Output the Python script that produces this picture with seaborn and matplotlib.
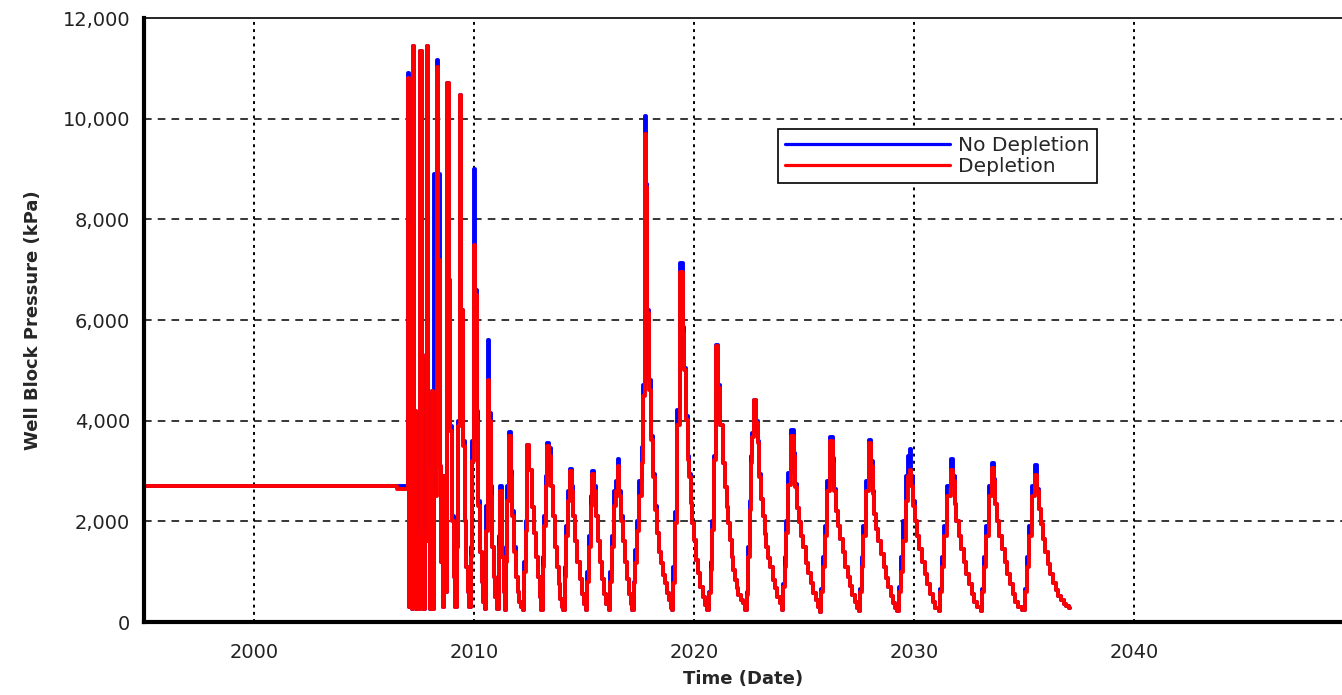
import matplotlib
matplotlib.use("Agg")
import pandas as pd
import seaborn as sns
import matplotlib.pyplot as plt
from matplotlib.lines import Line2D

# tiempo (años decimales) y presión de bloque del pozo (kPa)
years = [
    1995.00, 2006.50,
    # picos iniciales 2007-2009
    2006.98, 2007.06, 2007.11, 2007.16, 2007.21, 2007.29, 2007.35, 2007.42, 2007.48, 2007.55,
    2007.63, 2007.70, 2007.77, 2007.85, 2007.93, 2008.00, 2008.07, 2008.14, 2008.20, 2008.30,
    2008.38, 2008.45, 2008.52, 2008.58, 2008.65, 2008.71, 2008.78, 2008.86, 2008.93, 2009.00,
    2009.07, 2009.14, 2009.21, 2009.28, 2009.35, 2009.43, 2009.50, 2009.57, 2009.64, 2009.71,
    2009.78, 2009.85, 2009.92,
    # 2010
    2009.99, 2010.06, 2010.13, 2010.20, 2010.27, 2010.34, 2010.41, 2010.48,
    2010.55, 2010.62, 2010.69, 2010.76, 2010.83, 2010.90, 2010.97, 2011.04,
    2011.12, 2011.20, 2011.28, 2011.36, 2011.41,
    # 2011.6
    2011.46, 2011.52, 2011.58, 2011.66, 2011.74, 2011.82, 2011.90, 2011.98, 2012.06, 2012.14, 2012.22,
    # 2012.4
    2012.28, 2012.34, 2012.39, 2012.43, 2012.52, 2012.62, 2012.72, 2012.82, 2012.92, 2013.00, 2013.06,
    # 2013.35
    2013.12, 2013.19, 2013.27, 2013.33, 2013.42, 2013.50, 2013.58, 2013.66, 2013.75, 2013.84,
    2013.92, 2014.00, 2014.05,
    # 2014.4
    2014.12, 2014.20, 2014.28, 2014.36, 2014.44, 2014.52, 2014.60, 2014.70, 2014.80, 2014.90,
    2015.00, 2015.08,
    # 2015.4
    2015.14, 2015.22, 2015.30, 2015.38, 2015.46, 2015.54, 2015.62, 2015.72, 2015.82, 2015.92,
    2016.02, 2016.12,
    # 2016.5
    2016.20, 2016.28, 2016.38, 2016.47, 2016.53, 2016.61, 2016.69, 2016.77, 2016.86, 2016.95,
    2017.04, 2017.12, 2017.20,
    # 2017.8
    2017.26, 2017.32, 2017.40, 2017.50, 2017.62, 2017.70, 2017.76, 2017.82, 2017.88, 2017.95,
    2018.05, 2018.14, 2018.23, 2018.32, 2018.41, 2018.50, 2018.59, 2018.68, 2018.77, 2018.86,
    2018.95, 2018.99,
    # 2019.4
    2019.06, 2019.13, 2019.22, 2019.36, 2019.48, 2019.56, 2019.64, 2019.71, 2019.79, 2019.85,
    2019.91, 2020.00, 2020.09, 2020.17, 2020.27, 2020.40, 2020.50, 2020.60,
    # 2021
    2020.70, 2020.76, 2020.83, 2020.92, 2021.00, 2021.10, 2021.20, 2021.30, 2021.41, 2021.48,
    2021.56, 2021.64, 2021.71, 2021.79, 2021.86, 2021.94, 2022.01, 2022.12, 2022.24, 2022.32,
    # 2022.7
    2022.39, 2022.47, 2022.53, 2022.58, 2022.64, 2022.72, 2022.82, 2022.89, 2022.97, 2023.05,
    2023.13, 2023.21, 2023.29, 2023.37, 2023.45, 2023.58, 2023.68, 2023.79, 2023.91, 2023.99,
    # 2024.4
    2024.05, 2024.12, 2024.19, 2024.29, 2024.42, 2024.54, 2024.60, 2024.68, 2024.75, 2024.85,
    2024.97, 2025.08, 2025.20, 2025.30, 2025.42, 2025.53, 2025.64, 2025.72,
    # 2026.2
    2025.78, 2025.86, 2025.94, 2026.05, 2026.20, 2026.30, 2026.38, 2026.46, 2026.54, 2026.64,
    2026.76, 2026.88, 2026.98, 2027.08, 2027.20, 2027.30, 2027.40, 2027.48,
    # 2028
    2027.54, 2027.62, 2027.70, 2027.80, 2027.94, 2028.04, 2028.12, 2028.20, 2028.28, 2028.38,
    2028.50, 2028.62, 2028.72, 2028.82, 2028.94, 2029.04, 2029.14, 2029.24,
    # 2029.8
    2029.32, 2029.40, 2029.50, 2029.62, 2029.74, 2029.80, 2029.88, 2029.96, 2030.04, 2030.14,
    2030.24, 2030.36, 2030.48, 2030.60, 2030.72, 2030.84, 2030.96, 2031.12,
    # 2031.7
    2031.20, 2031.28, 2031.38, 2031.50, 2031.66, 2031.76, 2031.84, 2031.92, 2032.02, 2032.14,
    2032.26, 2032.38, 2032.50, 2032.62, 2032.74, 2032.86, 2033.02,
    # 2033.5
    2033.10, 2033.18, 2033.28, 2033.40, 2033.53, 2033.62, 2033.70, 2033.78, 2033.88, 2034.00,
    2034.12, 2034.24, 2034.36, 2034.48, 2034.60, 2034.72, 2034.90,
    # 2035.6
    2035.05, 2035.13, 2035.23, 2035.35, 2035.50, 2035.60, 2035.68, 2035.76, 2035.86, 2035.96,
    2036.08, 2036.20, 2036.32, 2036.44, 2036.56, 2036.68, 2036.80, 2036.92, 2037.05, 2037.10,
]

depletion = [
    2700, 2650,
    10800, 300, 7900, 250, 11450, 4200, 250, 1700, 250, 11350,
    5300, 250, 1600, 11450, 3000, 250, 4600, 250, 2500, 11030,
    7200, 3100, 1200, 300, 2900, 600, 10700, 6800, 3800, 2000,
    900, 300, 1500, 3900, 10480, 6200, 3500, 2000, 1100, 600,
    300, 1300, 3200,
    7500, 6500, 4000, 2300, 1400, 800, 400, 250,
    1800, 4800, 4000, 2500, 1500, 900, 500, 250,
    1500, 2600, 1300, 600, 240,
    1200, 2400, 3700, 2900, 2100, 1400, 900, 600, 400, 300, 240,
    1000, 1800, 2700, 3520, 3020, 2290, 1760, 1300, 900, 500, 240,
    1100, 1900, 2700, 3500, 3300, 2700, 2100, 1500, 1100, 750,
    450, 300, 240,
    900, 1700, 2400, 3000, 2600, 2100, 1600, 1200, 850, 550,
    350, 240,
    800, 1500, 2300, 2950, 2600, 2100, 1600, 1200, 850, 550,
    350, 240,
    800, 1500, 2300, 2600, 3100, 2500, 2000, 1600, 1200, 850,
    550, 350, 240,
    770, 1170, 1800, 2500, 3160, 4500, 9700, 8650, 6140, 4610,
    3620, 2890, 2230, 1770, 1400, 1170, 930, 770, 570, 440,
    270, 240,
    770, 1960, 3920, 6960, 5740, 5010, 4020, 3220, 2890, 2360,
    1960, 1630, 1230, 970, 700, 500, 340, 240,
    570, 1030, 1830, 3220, 5490, 4650, 3920, 3160, 2690, 2290,
    1960, 1630, 1300, 1030, 830, 670, 540, 440, 370, 240,
    540, 1300, 2230, 3160, 3680, 4410, 3950, 3550, 2890, 2450,
    2100, 1750, 1500, 1280, 1100, 835, 670, 500, 370, 240,
    700, 1100, 1770, 2720, 3700, 3290, 2690, 2260, 1990, 1700,
    1500, 1170, 970, 770, 570, 440, 300, 200,
    600, 1100, 1700, 2600, 3600, 3150, 2600, 2200, 1900, 1650,
    1400, 1100, 900, 720, 540, 400, 280, 220,
    600, 1100, 1700, 2600, 3550, 3100, 2550, 2150, 1850, 1600,
    1350, 1100, 880, 700, 520, 380, 270, 220,
    600, 1000, 1600, 2400, 2900, 3020, 2700, 2300, 2000, 1700,
    1450, 1200, 950, 750, 560, 400, 280, 220,
    600, 1100, 1700, 2500, 3020, 2800, 2350, 2000, 1700, 1450,
    1200, 950, 750, 560, 400, 290, 220,
    600, 1100, 1700, 2500, 3060, 2800, 2350, 2000, 1700, 1450,
    1200, 950, 750, 560, 400, 290, 230,
    600, 1100, 1700, 2500, 2920, 2600, 2250, 1950, 1650, 1400,
    1150, 950, 780, 640, 520, 430, 360, 310, 285, 280,
]

no_depletion = [
    2700, 2700,
    10900, 300, 7900, 250, 11450, 4200, 250, 1700, 250, 11350,
    5300, 250, 1600, 11450, 3000, 250, 4600, 250, 8900, 11170,
    8900, 3100, 1200, 300, 2900, 600, 10700, 6800, 3900, 2100,
    900, 300, 1500, 4000, 10480, 6200, 3600, 2000, 1100, 600,
    300, 1500, 3600,
    9000, 6600, 4200, 2400, 1400, 800, 400, 250,
    2300, 5600, 4150, 2700, 1500, 900, 500, 250,
    1700, 2700, 1300, 600, 240,
    1500, 2700, 3780, 3000, 2200, 1500, 900, 600, 400, 300, 240,
    1200, 2000, 2800, 3520, 3020, 2290, 1760, 1300, 900, 500, 240,
    1300, 2100, 2900, 3565, 3450, 2700, 2100, 1500, 1100, 750,
    450, 300, 240,
    1100, 1900, 2600, 3040, 2700, 2100, 1600, 1200, 850, 550,
    350, 240,
    1000, 1700, 2500, 3010, 2700, 2100, 1600, 1200, 850, 550,
    350, 240,
    1000, 1700, 2600, 2800, 3240, 2600, 2100, 1600, 1200, 850,
    550, 350, 240,
    800, 1430, 2000, 2800, 3480, 4700, 10060, 8700, 6200, 4800,
    3700, 2950, 2300, 1770, 1400, 1170, 930, 770, 570, 440,
    270, 240,
    1100, 2180, 4210, 7140, 5870, 5050, 4100, 3300, 2950, 2360,
    1960, 1630, 1230, 970, 700, 500, 340, 240,
    600, 1200, 2000, 3300, 5500, 4700, 3920, 3160, 2690, 2290,
    1960, 1630, 1300, 1030, 830, 670, 540, 440, 370, 240,
    600, 1500, 2400, 3300, 3750, 4420, 4000, 3600, 2950, 2450,
    2100, 1750, 1500, 1280, 1100, 835, 670, 500, 370, 240,
    750, 1300, 2000, 2960, 3820, 3350, 2750, 2260, 1990, 1700,
    1500, 1170, 970, 770, 570, 440, 300, 200,
    650, 1300, 1900, 2800, 3685, 3250, 2650, 2200, 1900, 1650,
    1400, 1100, 900, 720, 540, 400, 280, 220,
    650, 1300, 1900, 2800, 3620, 3200, 2600, 2150, 1850, 1600,
    1350, 1100, 880, 700, 520, 380, 270, 220,
    700, 1300, 2000, 2900, 3300, 3440, 2900, 2400, 2000, 1700,
    1450, 1200, 950, 750, 560, 400, 280, 220,
    650, 1300, 1900, 2700, 3240, 2900, 2350, 2000, 1700, 1450,
    1200, 950, 750, 560, 400, 290, 220,
    650, 1300, 1900, 2700, 3160, 2850, 2350, 2000, 1700, 1450,
    1200, 950, 750, 560, 400, 290, 230,
    650, 1300, 1900, 2700, 3120, 2650, 2250, 1950, 1650, 1400,
    1150, 950, 780, 640, 520, 430, 360, 310, 285, 280,
]

x_ticks = [2000, 2010, 2020, 2030, 2040]
y_ticks = [0, 2000, 4000, 6000, 8000, 10000, 12000]

df = pd.DataFrame({'year': years, 'Depletion': depletion, 'No Depletion': no_depletion})

sns.set_style('white')
plt.rcParams['font.family'] = ['DejaVu Sans']

fig = plt.figure(figsize=(13.42, 6.95), dpi=100)
ax = fig.add_axes([0.1073, 0.105, 0.8927, 0.869])

sns.lineplot(data=df, x='year', y='No Depletion', color='#0000ff', lw=2.8,
             drawstyle='steps-post', sort=False, estimator=None, ax=ax)
sns.lineplot(data=df, x='year', y='Depletion', color='#ff0000', lw=2.8,
             drawstyle='steps-post', sort=False, estimator=None, ax=ax)

ax.set_xlim(1995, 2049.45)
ax.set_ylim(0, 12000)
ax.set_xticks(x_ticks)
ax.set_yticks(y_ticks)
ax.set_yticklabels([f'{v:,}' for v in y_ticks])

# rejilla: horizontales discontinuas, verticales punteadas
for v in y_ticks[1:-1]:
    ax.axhline(v, color='black', lw=1.1, ls=(0, (5, 4)), zorder=0)
for v in x_ticks:
    ax.axvline(v, color='black', lw=1.4, ls=(0, (1.5, 2.2)), zorder=0)

ax.spines['left'].set_linewidth(3)
ax.spines['bottom'].set_linewidth(3)
ax.spines['top'].set_linewidth(1.2)
ax.spines['right'].set_visible(False)
for s in ax.spines.values():
    s.set_color('black')

ax.tick_params(axis='both', direction='out', length=7, width=2.5, color='black',
               labelsize=14, labelcolor='#222222')
ax.tick_params(axis='y', pad=3)
ax.tick_params(axis='x', pad=8)

ax.set_xlabel('Time (Date)', fontsize=13, fontweight='bold', labelpad=6)
ax.set_ylabel('Well Block Pressure (kPa)', fontsize=13, fontweight='bold', labelpad=15)

handles = [Line2D([], [], color='#0000ff', lw=2.3), Line2D([], [], color='#ff0000', lw=2.3)]
leg = ax.legend(handles, ['No Depletion', 'Depletion'], loc='upper left',
                bbox_to_anchor=(0.529, 0.816), borderaxespad=0, fontsize=14.5,
                handlelength=8.2, handletextpad=0.4, labelspacing=0.1, borderpad=0.35,
                frameon=True, fancybox=False, framealpha=1)
leg.get_frame().set_edgecolor('black')
leg.get_frame().set_linewidth(1.2)

plt.savefig('out.png', dpi=100)
